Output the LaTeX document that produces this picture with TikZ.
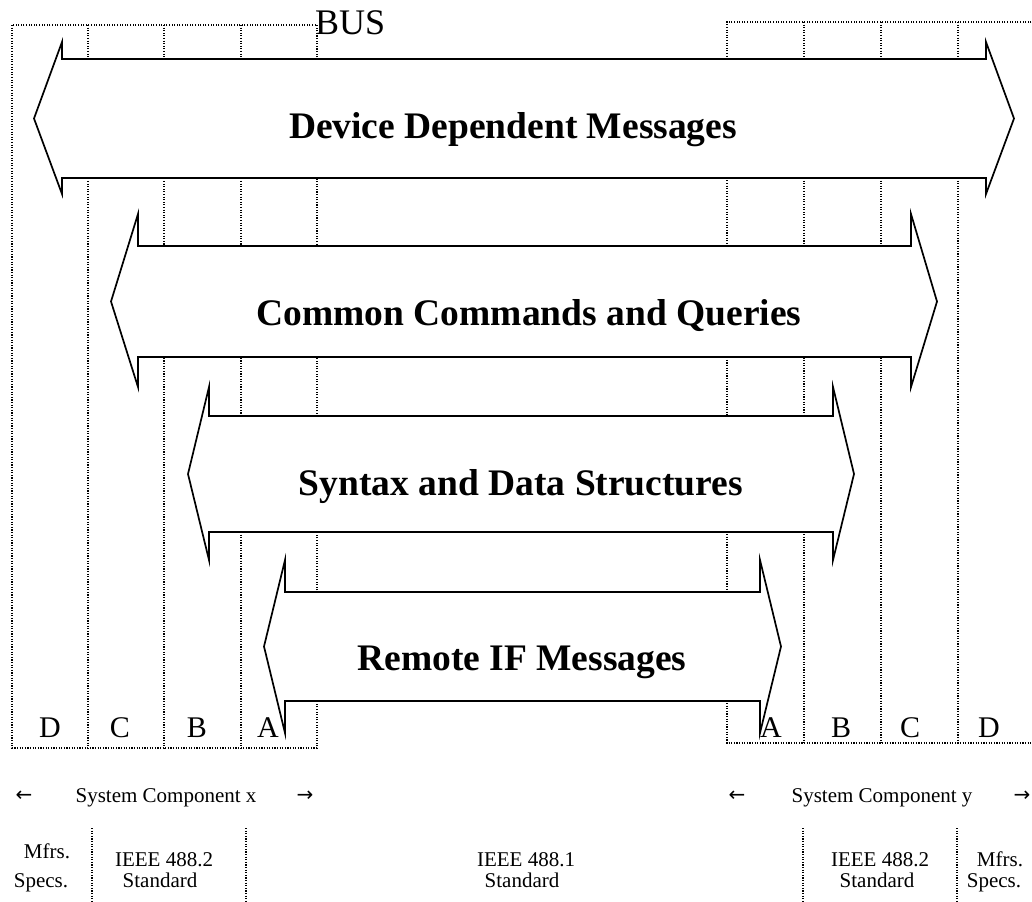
\documentclass[tikz,border=0pt]{standalone}
\usepackage{fontspec}
\setmainfont{Liberation Serif}
\newfontfamily\arrowfont{DejaVu Sans}
\newcommand\busband[9]{% left tip, left barb, right barb, right tip, then y: barb top, shaft top, tip, shaft bottom, barb bottom
  \draw[band] (#1,#7) -- (#2,#5) -- (#2,#6) -- (#3,#6) -- (#3,#5) -- (#4,#7)
    -- (#3,#9) -- (#3,#8) -- (#2,#8) -- (#2,#9) -- cycle;}
\begin{document}
\begin{tikzpicture}[x=1pt,y=-1pt,
  grid/.style={line width=1.1pt, dash pattern=on 1.1pt off 1.5pt},
  band/.style={draw, fill=white, line width=1.7pt, line join=miter},
  bandtext/.style={font=\fontsize{37.5}{37.5}\selectfont\bfseries, anchor=base, inner sep=0pt},
  layer/.style={font=\fontsize{30}{30}\selectfont, anchor=base, inner sep=0pt},
  small/.style={font=\fontsize{21}{21}\selectfont, anchor=base, inner sep=0pt},
  dir/.style={font=\fontsize{20}{20}\selectfont\arrowfont, anchor=base, inner sep=0pt}]
\useasboundingbox (0,0) rectangle (1032,901);

% bus columns of component x
\draw[grid] (12,25) rectangle (317,748);
\foreach \x in {88,164,241} \draw[grid] (\x,25) -- (\x,748);
% bus columns of component y
\draw[grid] (1034,22) -- (727,22) -- (727,743) -- (1034,743);
\foreach \x in {804,881,958} \draw[grid] (\x,22) -- (\x,743);

\node[font=\fontsize{36}{36}\selectfont, anchor=base west, inner sep=0pt] (bus) at (315,35) {BUS};

% message layers
\busband{34}{62}{986}{1014}{42}{59}{118.5}{178}{194}
\node[bandtext] (ddm) at (513,139) {Device Dependent Messages};
\busband{111}{138}{911}{937}{214}{246}{301.5}{357}{387}
\node[bandtext] (ccq) at (529,325) {Common Commands and Queries};
\busband{188}{209}{833}{854}{387}{416}{474}{532}{560}
\node[bandtext] (sds) at (521,495) {Syntax and Data Structures};
\busband{264}{285}{760}{781}{560}{592}{646.5}{701}{733}
\node[bandtext] (rif) at (522,670) {Remote IF Messages};

% layer letters
\node[layer] (xd) at (50,737) {D};
\node[layer] (xc) at (120,737) {C};
\node[layer] (xb) at (197,737) {B};
\node[layer] (xa) at (268,737) {A};
\node[layer] (ya) at (771,737) {A};
\node[layer] (yb) at (841,737) {B};
\node[layer] (yc) at (910,737) {C};
\node[layer] (yd) at (989,737) {D};

% system components
\node[dir] (xl) at (24,801) {←};
\node[small] (xn) at (166,802) {System Component x};
\node[dir] (xr) at (305,801) {→};
\node[dir] (yl) at (737,801) {←};
\node[small] (yn) at (882,802) {System Component y};
\node[dir] (yr) at (1022,801) {→};

% governing documents
\draw[grid] (92,828) -- (92,901);
\draw[grid] (246,828) -- (246,901);
\draw[grid] (803,828) -- (803,901);
\draw[grid] (957,828) -- (957,901);
\node[small] (m1a) at (47,858) {Mfrs.};
\node[small] (m1b) at (41,887) {Specs.};
\node[small] (s2a) at (164,866) {IEEE 488.2};
\node[small] (s2b) at (160,887) {Standard};
\node[small] (s1a) at (526,866) {IEEE 488.1};
\node[small] (s1b) at (522,887) {Standard};
\node[small] (t2a) at (880,866) {IEEE 488.2};
\node[small] (t2b) at (877,887) {Standard};
\node[small] (m2a) at (1000,866) {Mfrs.};
\node[small] (m2b) at (994,887) {Specs.};
\end{tikzpicture}
\end{document}
